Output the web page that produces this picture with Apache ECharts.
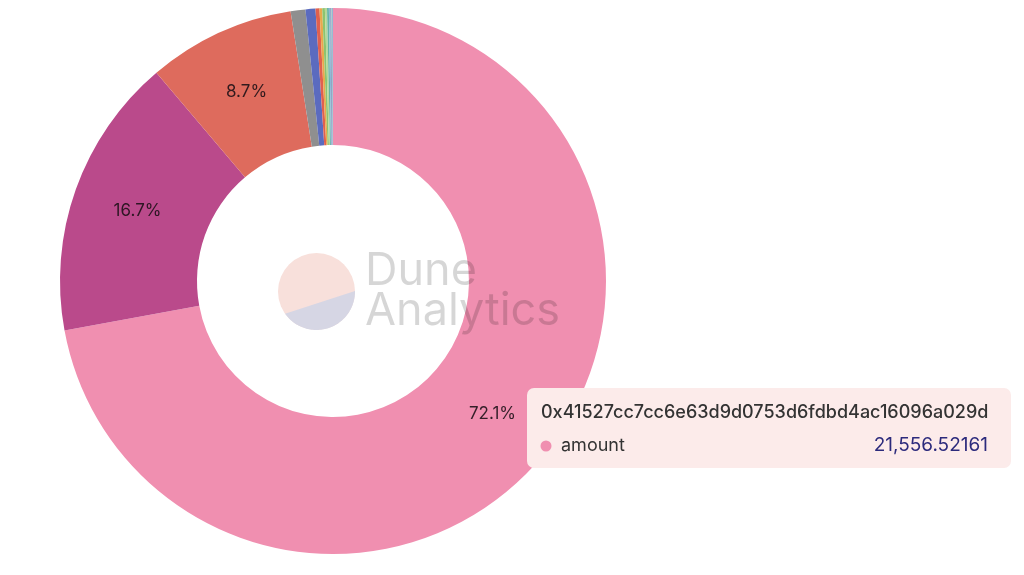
<!DOCTYPE html>
<html>
<head>
<meta charset="utf-8">
<script src="https://cdn.jsdelivr.net/npm/echarts@6/dist/echarts.min.js"></script>
<style>
html,body{margin:0;padding:0;background:#fff;}
#chart{width:1024px;height:575px;}
</style>
</head>
<body>
<div id="chart"></div>
<script>
// ---- data ----
const addresses = [
  "0x41527cc7cc6e63d9d0753d6fdbd4ac16096a029d",
  "holder_2","holder_3","holder_4","holder_5","holder_6","holder_7",
  "holder_8","holder_9","holder_10","holder_11","holder_12","holder_13","holder_14"
];
const amounts = [21556.52161, 4995, 2605, 262, 175, 70, 48, 46, 38, 32, 25, 20, 15, 12];
const sliceColors = ["#F08FB0","#BA4A8B","#DE6B5D","#8F8F8F","#5B6BBF","#E0604F","#E9A84C",
  "#8CC46F","#B5D89A","#63B3A6","#8FB6D6","#7A8CB8","#A9CDBF","#6E9FC9"];
const seriesName = "amount";
const shownIndex = 0;

const chart = echarts.init(document.getElementById('chart'), null, {renderer:'canvas'});

const fmt = v => v.toLocaleString('en-US', {minimumFractionDigits:5, maximumFractionDigits:5});

// watermark circle lower segment polygon
const wcx = 316.5, wcy = 291.5, wr = 38.5;
const segPts = [];
for (let a = -0.7; a <= 144.8; a += 2) {
  const t = a * Math.PI / 180;
  segPts.push([wcx + wr * Math.cos(t), wcy + wr * Math.sin(t)]);
}
{ const t = 144.8 * Math.PI / 180; segPts.push([wcx + wr * Math.cos(t), wcy + wr * Math.sin(t)]); }

const font = "Inter, 'Noto Sans', sans-serif";

chart.setOption({
  animation: false,
  series: [{
    type: 'pie',
    name: seriesName,
    center: [333, 281],
    radius: [136, 273],
    startAngle: 90,
    clockwise: true,
    avoidLabelOverlap: false,
    emphasis: {disabled: true},
    itemStyle: {borderWidth: 0},
    label: {
      show: true,
      position: 'inside',
      fontFamily: font,
      fontSize: 17,
      color: 'rgba(25,15,20,0.88)',
      formatter: p => p.percent >= 5 ? p.percent.toFixed(1) + '%' : ''
    },
    labelLine: {show: false},
    data: amounts.map((v, i) => ({name: addresses[i], value: v, itemStyle: {color: sliceColors[i]}}))
  }],
  graphic: [
    {type: 'circle', shape: {cx: wcx, cy: wcy, r: wr}, style: {fill: '#F8E0DB'}, z: 50, silent: true},
    {type: 'polygon', shape: {points: segPts}, style: {fill: '#D6D6E4'}, z: 51, silent: true},
    {type: 'text', x: 365, y: 294, z: 52, silent: true,
      style: {text: 'Dune', font: "400 45px " + font, fill: 'rgba(0,0,0,0.16)', verticalAlign: 'bottom'}},
    {type: 'text', x: 365, y: 334, z: 52, silent: true,
      style: {text: 'Analytics', font: "400 45px " + font, fill: 'rgba(0,0,0,0.16)', verticalAlign: 'bottom'}},
    // tooltip
    {type: 'rect', shape: {x: 527, y: 388, width: 484, height: 80, r: 7}, style: {fill: '#FCEBEA'}, z: 60, silent: true},
    {type: 'text', x: 541, y: 422, z: 61, silent: true,
      style: {text: addresses[shownIndex], font: "500 18px " + font, fill: '#333333', verticalAlign: 'bottom'}},
    {type: 'circle', shape: {cx: 546, cy: 446, r: 5.5}, style: {fill: sliceColors[shownIndex]}, z: 61, silent: true},
    {type: 'text', x: 561, y: 455, z: 61, silent: true,
      style: {text: seriesName, font: "400 18px " + font, fill: '#333333', verticalAlign: 'bottom'}},
    {type: 'text', x: 988, y: 455, z: 61, silent: true,
      style: {text: fmt(amounts[shownIndex]), font: "400 19px " + font, fill: '#2C2A7C', align: 'right', verticalAlign: 'bottom'}}
  ]
});
</script>
</body>
</html>
